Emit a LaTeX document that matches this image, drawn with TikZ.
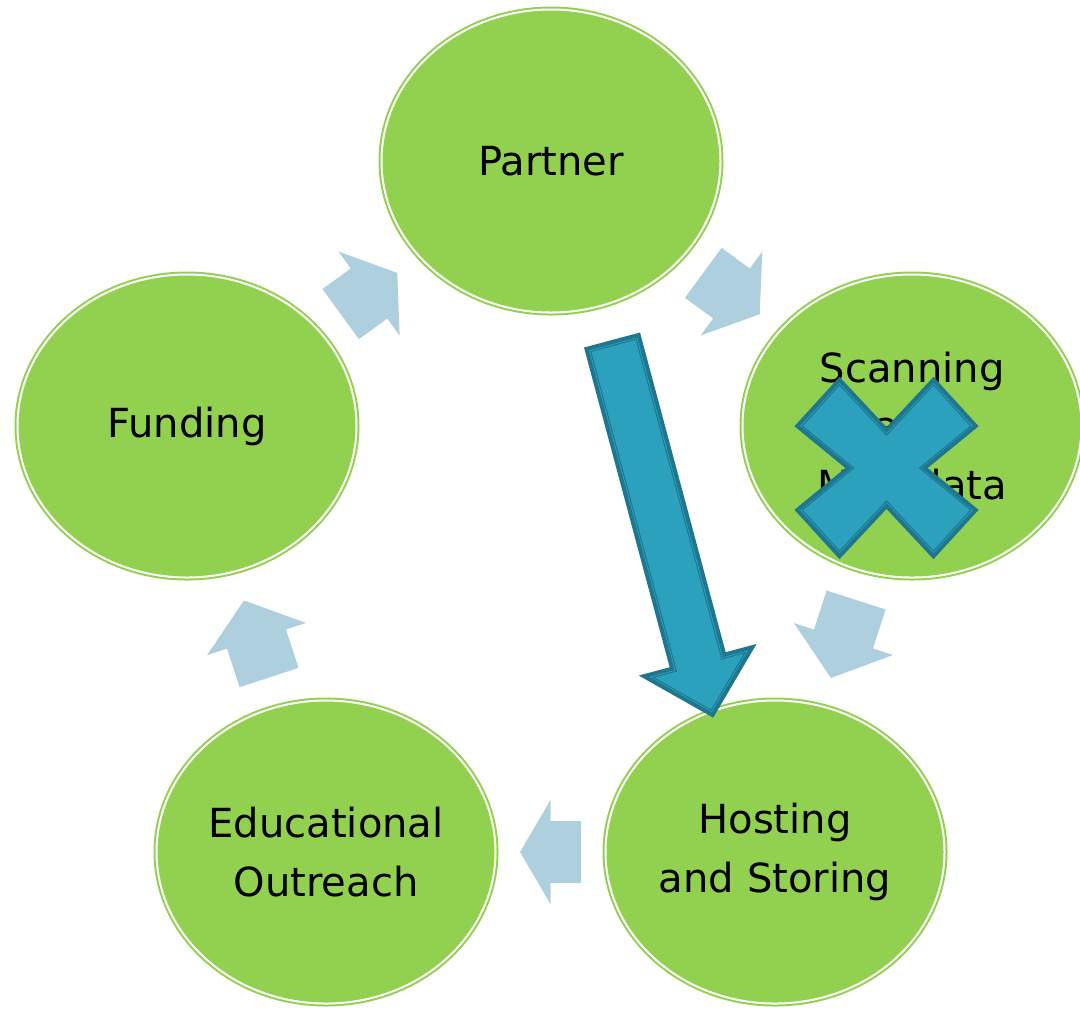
\documentclass[tikz,border=0pt]{standalone}
\usepackage{fontspec}
\setmainfont{DejaVu Sans}
\usepackage{xcolor}
\usepackage{tikz}
\usetikzlibrary{shapes.geometric, calc, positioning}
\definecolor{cyclegreen}{RGB}{146, 208, 80}
\definecolor{cyclearrowblue}{RGB}{173, 207, 222}
\definecolor{markblue}{RGB}{44, 161, 190}
\definecolor{markdark}{RGB}{30, 118, 143}

% block arrow centred between two stages, pointing from #1 to #2
\newcommand{\cyclearrow}[3]{%
    \pgfmathanglebetweenpoints{\pgfpointanchor{#1}{center}}{\pgfpointanchor{#2}{center}}
    \let\arrowangle\pgfmathresult
    \fill[cyclearrowblue, shift={($(#1)!0.5!(#2)$)}, rotate=\arrowangle]
        ({-#3/2},-0.31) -- (0,-0.31) -- (0,-0.52) -- ({#3/2},0)
        -- (0,0.52) -- (0,0.31) -- ({-#3/2},0.31) -- cycle;
}

\begin{document}
\begin{tikzpicture}[
    stage/.style={ellipse, fill=cyclegreen, draw=cyclegreen, double=white,
                  double distance=0.02cm, line width=0.02cm,
                  minimum width=3.39cm, minimum height=3.03cm, inner sep=0pt,
                  align=center, font=\fontsize{11.4}{16.6}\selectfont},
    markshape/.style={fill=markblue, draw=markdark, line width=0.04cm},
    markline/.style={draw=markdark, line width=0.01cm}
]
    \useasboundingbox (0,0) rectangle (10.8,-10.09);

    \node[stage] (partner) at (5.51,-1.61) {Partner};
    \node[stage] (scanning) at (9.12,-4.26) {Scanning\\and\\Metadata};
    \node[stage] (hosting) at (7.75,-8.52) {Hosting\\and Storing};
    \node[stage] (outreach) at (3.26,-8.52) {Educational\\Outreach};
    \node[stage] (funding) at (1.87,-4.26) {Funding};

    \cyclearrow{partner}{scanning}{0.70}
    \cyclearrow{scanning}{hosting}{0.82}
    \cyclearrow{hosting}{outreach}{0.61}
    \cyclearrow{outreach}{funding}{0.81}
    \cyclearrow{funding}{partner}{0.70}

    % big arrow on top
    \begin{scope}[shift={(6.12,-3.40)}, rotate=-75]
        \draw[markshape] (0.02,-0.27) -- (3.33,-0.27) -- (3.33,-0.561) -- (3.882,0)
            -- (3.33,0.561) -- (3.33,0.27) -- (0.02,0.27) -- cycle;
        \draw[markline] (0.055,-0.235) -- (3.365,-0.235) -- (3.365,-0.476) -- (3.833,0)
            -- (3.365,0.476) -- (3.365,0.235) -- (0.055,0.235) -- cycle;
    \end{scope}

    % cross over scanning
    \begin{scope}[shift={(8.865,-4.68)}]
        \draw[markshape] (0,0.38) -- (0.47,0.882) -- (0.892,0.42) -- (0.38,0)
            -- (0.892,-0.42) -- (0.47,-0.882) -- (0,-0.38) -- (-0.47,-0.882)
            -- (-0.892,-0.42) -- (-0.38,0) -- (-0.892,0.42) -- (-0.47,0.882) -- cycle;
        \draw[markline] (0,0.33) -- (0.47,0.832) -- (0.842,0.42) -- (0.33,0)
            -- (0.842,-0.42) -- (0.47,-0.832) -- (0,-0.33) -- (-0.47,-0.832)
            -- (-0.842,-0.42) -- (-0.33,0) -- (-0.842,0.42) -- (-0.47,0.832) -- cycle;
    \end{scope}
\end{tikzpicture}
\end{document}
